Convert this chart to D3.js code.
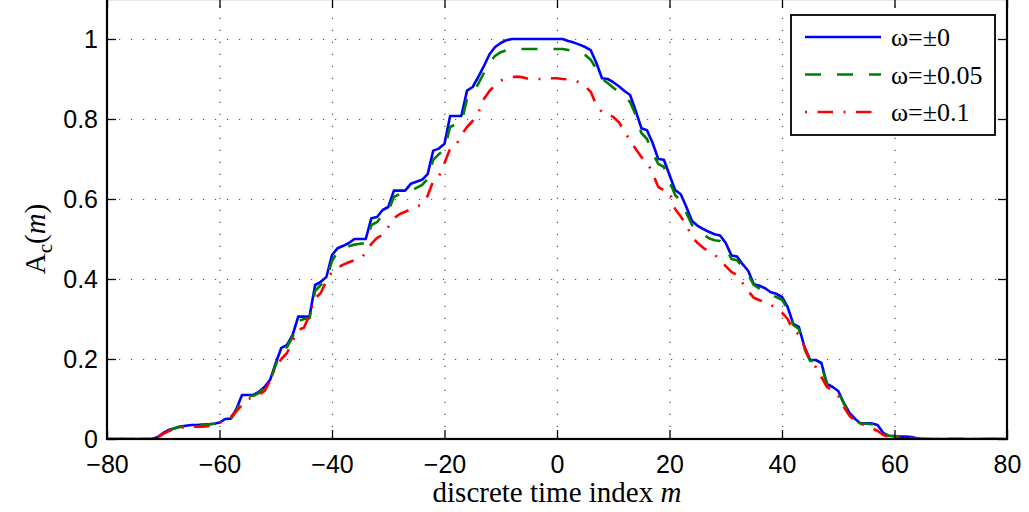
<!DOCTYPE html>
<html>
<head>
<meta charset="utf-8">
<script src="https://cdn.jsdelivr.net/npm/d3@7/dist/d3.min.js"></script>
<style>
  body { margin: 0; background: #fff; }
  .tick text { font-family: "Liberation Sans", Arial, sans-serif; font-size: 25px; fill: #000; }
  .grid line { stroke: #555; stroke-width: 1.2; stroke-dasharray: 1.2,10.8; }
  .label { font-family: "Liberation Serif", "Times New Roman", serif; font-size: 29px; fill: #000; }
  .legtext { font-family: "Liberation Serif", "Times New Roman", serif; font-size: 26px; fill: #000; }
</style>
</head>
<body>
<div id="chart"></div>
<script>
'use strict';

// discrete time index m runs -80..80
var mStart = -80;

// ω = ±0
var ampW0 = [
  0, 0, 0, 0, 0, 0, 0, 0, 0,
  0.005, 0.015, 0.023, 0.027, 0.031, 0.033, 0.035, 0.035, 0.036, 0.037, 0.038,
  0.041, 0.05, 0.051, 0.075, 0.11, 0.11, 0.11, 0.118, 0.13, 0.148,
  0.19, 0.228, 0.235, 0.26, 0.306, 0.306, 0.306, 0.385, 0.393, 0.405,
  0.46, 0.477, 0.483, 0.49, 0.5, 0.5, 0.5, 0.552, 0.555, 0.5725,
  0.58, 0.621, 0.621, 0.621, 0.638, 0.643, 0.648, 0.662, 0.721, 0.726,
  0.738, 0.8075, 0.8075, 0.8075, 0.871, 0.88, 0.905, 0.932, 0.962, 0.98,
  0.99, 0.997, 1, 1, 1, 1, 1, 1, 1, 1,
  1, 1, 0.995, 0.991, 0.986, 0.98, 0.972, 0.94, 0.902, 0.9,
  0.892, 0.882, 0.87, 0.86, 0.82, 0.777, 0.772, 0.74, 0.7, 0.698,
  0.66, 0.6225, 0.612, 0.58, 0.545, 0.533, 0.525, 0.518, 0.512, 0.509,
  0.49, 0.459, 0.456, 0.437, 0.42, 0.387, 0.383, 0.377, 0.367, 0.363,
  0.355, 0.33, 0.288, 0.28, 0.23, 0.1975, 0.1975, 0.19, 0.138, 0.13,
  0.12, 0.09, 0.065, 0.05, 0.039, 0.039, 0.039, 0.035, 0.015, 0.008,
  0.0075, 0.006, 0.006, 0.005, 0.002, 0, 0, 0, 0, 0,
  0, 0, 0, 0, 0, 0, 0, 0, 0, 0, 0
];

// ω = ±0.05
var ampW005 = [
  0, 0, 0, 0, 0, 0, 0, 0, 0,
  0.004, 0.014, 0.022, 0.026, 0.03, 0.032, 0.034, 0.035, 0.035, 0.036, 0.038,
  0.04, 0.048, 0.05, 0.07, 0.105, 0.107, 0.108, 0.115, 0.128, 0.145,
  0.185, 0.222, 0.23, 0.255, 0.295, 0.3, 0.302, 0.37, 0.385, 0.398,
  0.445, 0.468, 0.476, 0.482, 0.486, 0.488, 0.49, 0.535, 0.542, 0.56,
  0.57, 0.605, 0.612, 0.615, 0.62, 0.628, 0.635, 0.65, 0.698, 0.712,
  0.725, 0.78, 0.787, 0.79, 0.85, 0.862, 0.888, 0.915, 0.94, 0.958,
  0.967, 0.972, 0.975, 0.975, 0.975, 0.975, 0.975, 0.975, 0.975, 0.975,
  0.975, 0.975, 0.9725, 0.97, 0.966, 0.96, 0.948, 0.925, 0.9, 0.89,
  0.878, 0.868, 0.858, 0.842, 0.81, 0.765, 0.75, 0.715, 0.688, 0.68,
  0.645, 0.61, 0.595, 0.565, 0.535, 0.522, 0.512, 0.502, 0.497, 0.495,
  0.48, 0.45, 0.447, 0.43, 0.41, 0.385, 0.376, 0.368, 0.36, 0.355,
  0.348, 0.325, 0.285, 0.275, 0.225, 0.195, 0.195, 0.185, 0.135, 0.128,
  0.118, 0.088, 0.063, 0.048, 0.038, 0.038, 0.037, 0.033, 0.013, 0.008,
  0.007, 0.006, 0.005, 0.004, 0.002, 0, 0, 0, 0, 0,
  0, 0, 0, 0, 0, 0, 0, 0, 0, 0, 0
];

// ω = ±0.1
var ampW01 = [
  0, 0, 0, 0, 0, 0, 0, 0, 0,
  0.004, 0.013, 0.02, 0.024, 0.028, 0.03, 0.031, 0.031, 0.031, 0.032, 0.035,
  0.04, 0.048, 0.055, 0.07, 0.085, 0.1, 0.104, 0.11, 0.12, 0.145,
  0.18, 0.2, 0.215, 0.245, 0.273, 0.278, 0.31, 0.352, 0.365, 0.395,
  0.418, 0.428, 0.436, 0.442, 0.447, 0.451, 0.465, 0.488, 0.503, 0.51,
  0.53, 0.552, 0.562, 0.568, 0.575, 0.58, 0.588, 0.608, 0.645, 0.656,
  0.69, 0.726, 0.733, 0.76, 0.78, 0.795, 0.815, 0.85, 0.87, 0.885,
  0.896, 0.902, 0.905, 0.906, 0.904, 0.9, 0.9, 0.9, 0.901, 0.902,
  0.902, 0.9, 0.899, 0.896, 0.892, 0.882, 0.868, 0.835, 0.817, 0.814,
  0.805, 0.792, 0.77, 0.745, 0.725, 0.705, 0.692, 0.665, 0.63, 0.622,
  0.618, 0.575, 0.556, 0.535, 0.505, 0.49, 0.478, 0.468, 0.461, 0.448,
  0.432, 0.418, 0.41, 0.39, 0.37, 0.353, 0.347, 0.343, 0.335, 0.327,
  0.316, 0.3, 0.27, 0.262, 0.23, 0.195, 0.18, 0.155, 0.13, 0.122,
  0.108, 0.08, 0.058, 0.045, 0.038, 0.032, 0.027, 0.02, 0.01, 0.005,
  0.004, 0.004, 0.003, 0.002, 0, 0, 0, 0, 0, 0,
  0, 0, 0, 0, 0, 0, 0, 0, 0, 0, 0
];

var seriesNames = ['ω=±0', 'ω=±0.05', 'ω=±0.1'];
var xTicks = [-80, -60, -40, -20, 0, 20, 40, 60, 80];
var yTicks = [0, 0.2, 0.4, 0.6, 0.8, 1];

var series = [
  {name: seriesNames[0], values: ampW0, color: '#0000ff', dash: null},
  {name: seriesNames[1], values: ampW005, color: '#008000', dash: '16,16'},
  {name: seriesNames[2], values: ampW01, color: '#ff0000', dash: '2,10.5,15.5,10.5'}
];

var W = 1029, H = 512;
var plot = {left: 107, right: 1007, top: -1, bottom: 439};

var svg = d3.select('#chart').append('svg')
  .attr('width', W)
  .attr('height', H);

var x = d3.scaleLinear().domain([-80, 80]).range([plot.left, plot.right]);
var y = d3.scaleLinear().domain([0, 1.1]).range([plot.bottom, plot.top]);

// Grid lines.
var grid = svg.append('g').attr('class', 'grid');
grid.selectAll('line.gx')
  .data(xTicks.slice(1, -1))
  .enter().append('line')
  .attr('x1', function(d) { return x(d) + 0.5; })
  .attr('x2', function(d) { return x(d) + 0.5; })
  .attr('y1', plot.bottom)
  .attr('y2', plot.top);
grid.selectAll('line.gy')
  .data(yTicks.slice(1))
  .enter().append('line')
  .attr('x1', plot.left)
  .attr('x2', plot.right)
  .attr('y1', function(d) { return y(d) + 0.5; })
  .attr('y2', function(d) { return y(d) + 0.5; });

// Clip curves to the axes box.
svg.append('clipPath').attr('id', 'clip')
  .append('rect')
  .attr('x', plot.left)
  .attr('y', plot.top)
  .attr('width', plot.right - plot.left)
  .attr('height', plot.bottom - plot.top);

var line = d3.line()
  .x(function(d, i) { return x(mStart + i); })
  .y(function(d) { return y(d); });

svg.append('g').attr('clip-path', 'url(#clip)')
  .selectAll('path')
  .data(series)
  .enter().append('path')
  .attr('d', function(s) { return line(s.values); })
  .attr('fill', 'none')
  .attr('stroke', function(s) { return s.color; })
  .attr('stroke-width', 2.6)
  .attr('stroke-linejoin', 'round')
  .attr('stroke-dasharray', function(s) { return s.dash; });

// Axes, ticks pointing inward.
var fmt = d3.format('');
svg.append('g')
  .attr('transform', 'translate(0,' + plot.bottom + ')')
  .call(d3.axisBottom(x).tickValues(xTicks).tickSize(-9).tickPadding(16).tickFormat(fmt))
  .call(function(g) { g.select('.domain').remove(); });
svg.append('g')
  .attr('transform', 'translate(0,' + plot.top + ')')
  .call(d3.axisTop(x).tickValues(xTicks).tickSize(-9).tickFormat(''))
  .call(function(g) { g.select('.domain').remove(); });
svg.append('g')
  .attr('transform', 'translate(' + plot.left + ',0)')
  .call(d3.axisLeft(y).tickValues(yTicks).tickSize(-9).tickPadding(9).tickFormat(fmt))
  .call(function(g) { g.select('.domain').remove(); });
svg.append('g')
  .attr('transform', 'translate(' + plot.right + ',0)')
  .call(d3.axisRight(y).tickValues(yTicks).tickSize(-9).tickFormat(''))
  .call(function(g) { g.select('.domain').remove(); });

svg.selectAll('.tick line').attr('stroke', '#000').attr('stroke-width', 1.3);

// Box.
svg.append('rect')
  .attr('x', plot.left)
  .attr('y', plot.top)
  .attr('width', plot.right - plot.left)
  .attr('height', plot.bottom - plot.top)
  .attr('fill', 'none')
  .attr('stroke', '#000')
  .attr('stroke-width', 2.2);

// Axis labels.
var xl = svg.append('text')
  .attr('class', 'label')
  .attr('x', x(0))
  .attr('y', 502)
  .attr('text-anchor', 'middle');
xl.append('tspan').text('discrete time index ');
xl.append('tspan').attr('font-style', 'italic').text('m');

var yl = svg.append('text')
  .attr('class', 'label')
  .attr('transform', 'translate(45,' + y(0.5) + ') rotate(-90)')
  .attr('text-anchor', 'middle');
yl.append('tspan').text('A');
yl.append('tspan').attr('font-size', '21px').attr('dy', 7).text('c');
yl.append('tspan').attr('dy', -7).text('(');
yl.append('tspan').attr('font-style', 'italic').text('m');
yl.append('tspan').text(')');

// Legend.
var leg = svg.append('g');
leg.append('rect')
  .attr('x', 791).attr('y', 15)
  .attr('width', 204).attr('height', 120)
  .attr('fill', '#fff')
  .attr('stroke', '#000')
  .attr('stroke-width', 1.8);
var items = leg.selectAll('g.item')
  .data(series)
  .enter().append('g')
  .attr('transform', function(d, i) { return 'translate(0,' + (37 + i * 37.5) + ')'; });
items.append('line')
  .attr('x1', 805).attr('x2', 881)
  .attr('stroke', function(s) { return s.color; })
  .attr('stroke-width', 2.6)
  .attr('stroke-dasharray', function(s) { return s.dash; });
items.append('text')
  .attr('class', 'legtext')
  .attr('x', 891)
  .attr('dy', '0.35em')
  .text(function(s) { return s.name; });
</script>
</body>
</html>
